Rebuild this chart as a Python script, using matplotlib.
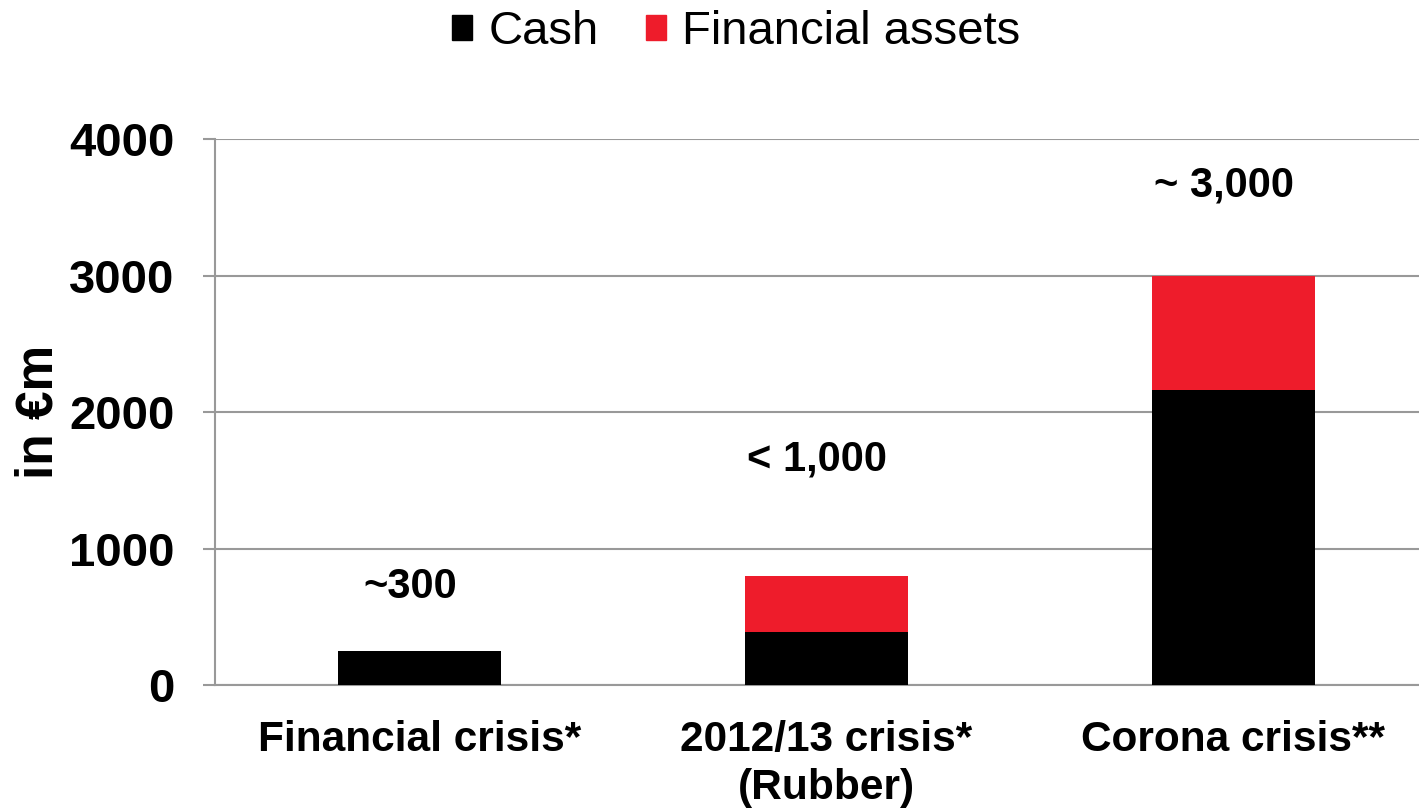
import matplotlib.pyplot as plt
from matplotlib.patches import Patch

categories = ["Financial crisis*", "2012/13 crisis*\n(Rubber)", "Corona crisis**"]
cash = [250, 390, 2160]
financial_assets = [0, 410, 840]
totals_text = ["~300", "< 1,000", "~ 3,000"]
text_y = [720, 1650, 3660]

red = "#EE1C2B"
grey = "#999999"

plt.rcParams["font.family"] = ["Liberation Sans", "DejaVu Sans"]

fig = plt.figure(figsize=(14.19, 8.08), dpi=100)
ax = fig.add_axes([0.1515, 0.152, 0.8485, 0.676])

x = list(range(len(categories)))
ax.bar(x, cash, width=0.4, color="black", zorder=3)
ax.bar(x, financial_assets, width=0.4, bottom=cash, color=red, zorder=3)

# labels sit a little left of the bar centres in the original
for i in x:
    ax.annotate(totals_text[i], (i, text_y[i]), xytext=(-6.5, 0), textcoords="offset points",
                ha="center", va="center", fontsize=30, fontweight="bold")

ax.set_xlim(-0.502, 2.456)
ax.set_ylim(0, 4000)
ax.set_yticks([0, 1000, 2000, 3000, 4000])
ax.yaxis.grid(True, color=grey, linewidth=1.5, zorder=0)
ax.set_xticks(x)
ax.set_xticklabels(categories, fontsize=30.5, fontweight="bold", linespacing=1.25)
ax.tick_params(axis="x", length=0, pad=25)
ax.tick_params(axis="y", length=9, width=1.5, color=grey, pad=20, labelsize=34)
for lab in ax.get_yticklabels():
    lab.set_fontweight("bold")

for s in ["top", "right"]:
    ax.spines[s].set_visible(False)
for s in ["left", "bottom"]:
    ax.spines[s].set_color(grey)
    ax.spines[s].set_linewidth(1.5)

ax.set_ylabel("in €m", fontsize=37, fontweight="bold", labelpad=4)

handles = [Patch(color="black", label="Cash"), Patch(color=red, label="Financial assets")]
fig.legend(handles=handles, loc="upper center", bbox_to_anchor=(0.519, 1.04), ncol=2,
           frameon=False, fontsize=34, handlelength=0.42, handleheight=0.42,
           handletextpad=0.35, columnspacing=1.0)

fig.savefig("out.png", dpi=100)
